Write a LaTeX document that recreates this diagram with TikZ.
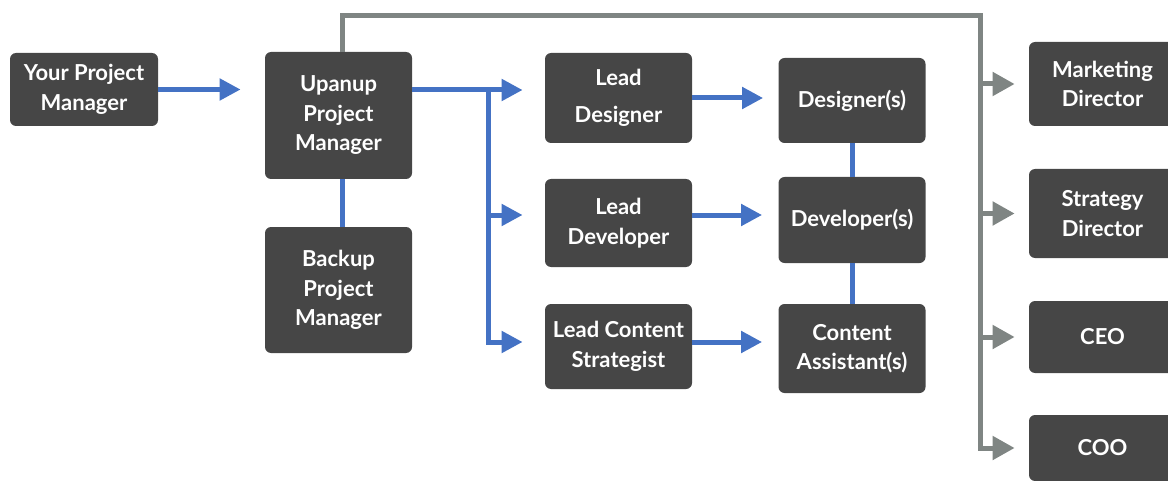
\documentclass[tikz,border=0pt]{standalone}
\usepackage{fontspec}
\setmainfont{Lato}
\usetikzlibrary{arrows.meta}
\definecolor{boxgray}{HTML}{464646}
\definecolor{lineblue}{HTML}{4472C4}
\definecolor{linegray}{HTML}{7F8583}
\tikzset{
  role/.style={fill=boxgray, rounded corners=3pt, text=white, inner sep=0pt,
    font=\bfseries\fontsize{11}{14.75}\selectfont, align=center, minimum width=73.5pt},
  bluearrow/.style={draw=lineblue, line width=2.5pt, -{Triangle[length=10.5pt,width=10.5pt]}},
  blueline/.style={draw=lineblue, line width=2.5pt},
  grayarrow/.style={draw=linegray, line width=2.5pt, -{Triangle[length=11pt,width=11.5pt]}},
}
\begin{document}
\begin{tikzpicture}[x=0.5pt,y=-0.5pt]
  \useasboundingbox (0,0) rectangle (1168,481);
  \clip (0,0) rectangle (1168,481);
  % boxes
  \node[role, minimum width=74pt, minimum height=36.5pt] (ypm) at (84,89.5) {Your Project\\Manager};
  \node[role, minimum height=63.5pt] (upm) at (338.5,115.5) {Upanup\\Project\\Manager};
  \node[role, minimum height=63pt] (bpm) at (338.5,290) {Backup\\Project\\Manager};
  \node[role, minimum height=45pt] (lds) at (618.5,98) {Lead\\[3.75pt]Designer};
  \node[role, minimum height=44pt] (ldv) at (618.5,223) {Lead\\Developer};
  \node[role, minimum height=42.5pt] (lcs) at (618.5,346.5) {Lead Content\\Strategist};
  \node[role, minimum height=42.5pt] (dsg) at (852,100.5) {Designer(s)};
  \node[role, minimum height=43pt] (dev) at (852,220) {Developer(s)};
  \node[role, minimum height=44.5pt] (cas) at (852,348.5) {Content\\Assistant(s)};
  \node[role, minimum height=42pt] (mkt) at (1102.5,84) {Marketing\\Director};
  \node[role, minimum height=44.5pt] (std) at (1102.5,213.5) {Strategy\\Director};
  \node[role, minimum height=36pt] (ceo) at (1102.5,337) {CEO};
  \node[role, minimum height=33pt] (coo) at (1102.5,448) {COO};
  % blue connectors
  \coordinate (fork) at (488,90);
  \coordinate (forkmid) at (488,215);
  \coordinate (forkend) at (488,342);
  \draw[bluearrow, shorten >=12pt] (ypm.east) -- (ypm.east -| upm.west);
  \draw[bluearrow, shorten >=11pt] (upm.east |- fork) -- (fork -| lds.west);
  \draw[bluearrow, shorten >=11pt] (fork) -- (forkend) -- (forkend -| lcs.west);
  \draw[bluearrow, shorten >=11pt] (forkmid) -- (forkmid -| ldv.west);
  \draw[bluearrow, shorten >=7.5pt] (lds.east) -- (lds.east -| dsg.west);
  \draw[bluearrow, shorten >=8pt] (ldv.east |- forkmid) -- (forkmid -| dev.west);
  \draw[bluearrow, shorten >=8pt] (lcs.east |- forkend) -- (forkend -| cas.west);
  \draw[blueline] (dsg.south) -- (dev.north);
  \draw[blueline] (dev.south) -- (cas.north);
  \draw[blueline] ([xshift=1.75pt]upm.south) -- ([xshift=1.75pt]bpm.north);
  % gray connectors
  \coordinate (top) at (980,16);
  \draw[grayarrow, shorten >=7pt] ([xshift=1.75pt]upm.north) |- (top) |- (coo.west);
  \draw[grayarrow, shorten >=7pt] (top |- mkt) -- (mkt.west);
  \draw[grayarrow, shorten >=7pt] (top |- std) -- (std.west);
  \draw[grayarrow, shorten >=7pt] (top |- ceo) -- (ceo.west);
\end{tikzpicture}
\end{document}
